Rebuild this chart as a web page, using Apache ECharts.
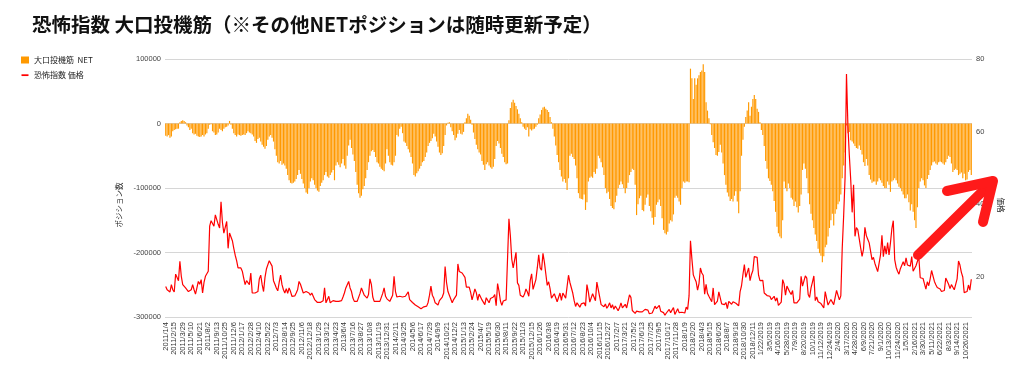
<!DOCTYPE html>
<html>
<head>
<meta charset="utf-8">
<script src="https://cdn.jsdelivr.net/npm/echarts@6/dist/echarts.min.js"></script>
<style>
  html, body { margin: 0; background: #fff; }
  #chart { width: 1024px; height: 375px; }
</style>
</head>
<body>
<div id="chart"></div>
<script>
// weekly data (Tuesdays), CFTC large speculators NET / VIX close
const net2011 = [-19000, -20000, -18000, -22000, -20000, -12000, -10000, -9000, -8000, -8000, 2000, 4000, 5000, 4000, 2000, -3000, -6000, -10000, -8000, -15000, -17000, -16000, -19000, -20000, -21000, -20000, -18000, -20000, -17000, -15000, -8000, -2000, -1000, -12000, -14000, -18000, -17000, -14000, -8000, -10000, -12000, -8000, -6000, -5000, -3000, 4000, -2000, -8000, -15000, -18000, -20000, -17000];
const net2012 = [-18000, -19000, -18000, -17000, -18000, -15000, -12000, -14000, -15000, -17000, -20000, -27000, -30000, -24000, -22000, -28000, -33000, -36000, -39000, -35000, -25000, -20000, -18000, -22000, -28000, -40000, -50000, -60000, -62000, -58000, -64000, -62000, -65000, -70000, -80000, -88000, -92000, -93000, -92000, -90000, -86000, -80000, -72000, -78000, -86000, -93000, -100000, -107000, -109000, -100000, -90000, -85000];
const net2013 = [-88000, -95000, -100000, -104000, -106000, -97000, -92000, -88000, -80000, -75000, -82000, -84000, -80000, -76000, -72000, -88000, -65000, -60000, -64000, -68000, -62000, -55000, -65000, -70000, -50000, -34000, -25000, -38000, -48000, -58000, -75000, -95000, -108000, -115000, -112000, -102000, -97000, -85000, -72000, -60000, -50000, -43000, -41000, -44000, -52000, -60000, -62000, -67000, -70000, -72000, -74000, -62000, -40000];
const net2014 = [-50000, -60000, -64000, -65000, -60000, -50000, -18000, -20000, -8000, -5000, -15000, -28000, -30000, -35000, -40000, -45000, -52000, -62000, -80000, -82000, -77000, -74000, -70000, -66000, -60000, -58000, -52000, -45000, -35000, -30000, -27000, -23000, -16000, -20000, -28000, -36000, -45000, -49000, -46000, -35000, -18000, -3000, 1000, 2000, -6000, -12000, -18000, -26000, -22000, -16000, -10000, -16000];
const net2015 = [-17000, -13000, 2000, 8000, 15000, 12000, 6000, -2000, -14000, -24000, -33000, -40000, -45000, -48000, -58000, -64000, -72000, -63000, -60000, -65000, -68000, -70000, -67000, -55000, -35000, -27000, -31000, -38000, -47000, -52000, -60000, -63000, -62000, 5000, 24000, 33000, 37000, 32000, 27000, 22000, 15000, 8000, 2000, -5000, -8000, -10000, -6000, -20000, -9000, -11000, -9000, -8000];
const net2016 = [-5000, -2000, 8000, 14000, 21000, 25000, 26000, 23000, 21000, 18000, 10000, 2000, -8000, -20000, -34000, -49000, -60000, -72000, -82000, -90000, -86000, -92000, -103000, -85000, -50000, -47000, -52000, -55000, -65000, -85000, -108000, -116000, -117000, -118000, -110000, -134000, -122000, -90000, -84000, -82000, -84000, -75000, -78000, -70000, -50000, -54000, -60000, -68000, -80000, -100000, -108000, -106000];
const net2017 = [-117000, -128000, -131000, -133000, -122000, -112000, -100000, -95000, -90000, -94000, -100000, -108000, -100000, -92000, -80000, -75000, -70000, -72000, -95000, -142000, -125000, -116000, -112000, -134000, -136000, -126000, -115000, -110000, -128000, -136000, -146000, -157000, -145000, -126000, -122000, -118000, -128000, -147000, -165000, -170000, -172000, -168000, -155000, -150000, -152000, -141000, -115000, -112000, -115000, -121000, -126000, -100000];
const net2018 = [-90000, -92000, -90000, -90000, -91000, 85000, 70000, 38000, 70000, 60000, 70000, 75000, 80000, 82000, 92000, 80000, 33000, 20000, 8000, -1000, -18000, -29000, -38000, -49000, -50000, -44000, -33000, -45000, -62000, -80000, -95000, -107000, -113000, -120000, -117000, -121000, -112000, -105000, -121000, -139000, -105000, -50000, -25000, -5000, 10000, 20000, 33000, 12000, 26000, 38000, 44000, 38000];
const net2019 = [23000, 18000, 2000, -10000, -18000, -35000, -58000, -70000, -85000, -89000, -95000, -105000, -120000, -137000, -160000, -170000, -175000, -178000, -150000, -90000, -100000, -105000, -93000, -100000, -115000, -118000, -128000, -121000, -130000, -138000, -128000, -110000, -72000, -62000, -70000, -85000, -108000, -125000, -140000, -150000, -162000, -172000, -182000, -194000, -201000, -205000, -215000, -206000, -192000, -188000, -175000, -162000, -150000];
const net2020 = [-140000, -158000, -140000, -133000, -125000, -121000, -110000, -85000, -65000, -45000, -3000, -15000, -13000, -26000, -28000, -31000, -35000, -38000, -39000, -34000, -41000, -48000, -60000, -66000, -55000, -65000, -80000, -87000, -92000, -90000, -90000, -95000, -90000, -85000, -88000, -92000, -97000, -100000, -100000, -90000, -95000, -106000, -90000, -88000, -85000, -88000, -93000, -98000, -100000, -105000, -110000, -116000];
const net2021 = [-116000, -110000, -122000, -135000, -125000, -137000, -150000, -162000, -130000, -100000, -90000, -85000, -88000, -96000, -100000, -86000, -80000, -72000, -65000, -60000, -59000, -62000, -64000, -60000, -59000, -60000, -62000, -64000, -60000, -55000, -50000, -52000, -62000, -75000, -72000, -70000, -72000, -80000, -78000, -76000, -85000, -78000, -88000, -87000, -75000, -72000, -80000];

const vix2011 = [17.4, 16.5, 17.0, 15.9, 17.9, 16.5, 15.9, 20.8, 21.1, 19.0, 24.3, 20.2, 17.9, 17.9, 17.0, 16.5, 16.0, 15.9, 16.5, 17.9, 16.5, 15.3, 17.0, 18.8, 18.0, 19.3, 15.6, 18.5, 20.2, 19.7, 21.6, 34.0, 35.5, 35.0, 34.0, 37.1, 37.1, 34.5, 33.5, 40.7, 35.0, 32.1, 31.6, 35.3, 27.9, 32.1, 31.6, 30.0, 27.9, 26.0, 24.5, 22.5];
const vix2012 = [22.9, 22.5, 21.6, 19.7, 17.9, 19.0, 18.5, 17.9, 21.1, 15.6, 16.0, 15.6, 15.3, 16.0, 19.5, 20.5, 17.9, 16.0, 19.9, 22.2, 22.0, 24.5, 24.8, 23.0, 19.0, 18.0, 17.0, 16.2, 18.5, 20.5, 17.9, 16.5, 15.6, 16.8, 15.5, 17.0, 16.0, 14.7, 14.2, 14.8, 15.6, 16.5, 18.8, 18.0, 17.9, 15.6, 16.0, 16.0, 15.6, 15.6, 15.0, 15.6];
const vix2013 = [14.7, 13.8, 13.3, 13.0, 13.3, 13.0, 12.9, 13.5, 17.0, 12.9, 12.5, 14.7, 12.9, 13.3, 13.5, 13.8, 13.3, 13.0, 13.3, 12.9, 13.5, 14.5, 15.6, 17.0, 17.9, 18.8, 17.0, 16.0, 14.2, 13.3, 12.9, 13.3, 13.3, 15.5, 17.0, 16.5, 15.0, 14.5, 14.2, 15.2, 19.5, 18.0, 14.5, 13.3, 13.3, 13.3, 13.0, 13.3, 13.3, 15.5, 17.0, 14.7, 14.0];
const vix2014 = [14.2, 13.3, 13.5, 15.0, 20.2, 16.0, 14.5, 14.2, 14.7, 15.0, 14.5, 14.0, 14.7, 15.0, 15.9, 13.8, 13.5, 13.0, 12.9, 12.3, 12.0, 11.8, 11.4, 11.3, 11.0, 11.8, 11.4, 12.0, 13.0, 15.0, 17.5, 15.0, 14.2, 12.9, 12.6, 12.3, 13.5, 13.0, 14.5, 15.6, 22.9, 18.5, 16.0, 15.0, 14.5, 12.9, 13.8, 13.3, 15.0, 23.6, 21.5, 21.1];
const vix2015 = [21.1, 20.6, 19.9, 17.2, 17.3, 17.2, 15.8, 13.7, 13.9, 16.7, 15.7, 13.6, 15.3, 14.8, 13.7, 13.3, 12.4, 14.3, 13.9, 12.9, 14.1, 13.9, 14.5, 15.2, 12.1, 18.2, 16.1, 13.4, 12.2, 13.4, 13.0, 13.7, 13.8, 36.0, 31.4, 24.9, 22.5, 22.4, 26.8, 18.4, 17.7, 15.0, 15.4, 14.5, 15.3, 16.7, 15.9, 14.7, 19.0, 20.9, 16.6, 16.1];
const vix2016 = [19.3, 22.5, 26.1, 22.5, 21.9, 26.5, 24.1, 20.9, 17.7, 18.7, 16.8, 14.2, 14.8, 15.4, 14.9, 13.2, 13.2, 15.6, 13.6, 15.6, 15.8, 14.2, 14.1, 20.5, 18.5, 18.8, 15.6, 13.5, 11.9, 12.9, 13.4, 11.7, 12.6, 12.4, 12.9, 12.0, 17.9, 15.9, 13.1, 13.6, 15.4, 15.3, 13.5, 18.6, 18.7, 14.5, 12.4, 12.9, 11.8, 12.6, 11.4, 12.0];
const vix2017 = [12.9, 11.5, 12.4, 11.1, 12.0, 11.4, 10.7, 11.6, 12.9, 11.5, 11.4, 12.5, 11.5, 11.8, 15.1, 14.4, 10.8, 10.6, 10.0, 10.6, 10.7, 10.4, 10.5, 10.4, 10.9, 11.1, 11.1, 10.9, 9.9, 9.4, 10.1, 11.0, 12.0, 11.3, 11.7, 12.2, 10.6, 10.2, 10.2, 9.5, 10.1, 10.3, 11.1, 10.2, 9.9, 11.6, 9.7, 10.0, 11.3, 10.2, 10.0, 10.3];
const vix2018 = [9.8, 10.1, 11.7, 11.1, 14.8, 30.0, 25.0, 20.6, 19.6, 18.7, 16.4, 18.2, 22.5, 21.1, 20.5, 15.3, 18.0, 15.5, 14.7, 14.6, 13.2, 17.0, 12.4, 12.4, 13.4, 15.9, 15.6, 12.6, 12.1, 12.4, 13.0, 11.3, 13.3, 12.9, 12.5, 13.2, 13.2, 12.8, 12.4, 12.1, 16.0, 17.6, 20.7, 23.4, 19.9, 20.0, 22.5, 19.0, 20.7, 21.8, 25.6, 25.6];
const vix2019 = [25.4, 20.5, 19.0, 19.5, 19.1, 15.6, 15.4, 14.9, 14.9, 14.7, 13.8, 13.6, 14.7, 13.4, 14.3, 12.2, 12.3, 13.1, 19.3, 18.1, 15.0, 17.5, 17.0, 15.9, 15.2, 16.3, 12.9, 13.0, 12.9, 12.6, 13.9, 20.2, 17.5, 17.5, 20.3, 19.7, 15.2, 14.4, 17.0, 18.6, 20.3, 13.5, 14.5, 13.2, 12.9, 12.7, 12.5, 11.5, 16.0, 15.7, 12.3, 12.7, 13.8];
const vix2020 = [13.8, 12.4, 12.9, 16.3, 15.8, 13.7, 14.8, 27.9, 36.8, 47.3, 75.9, 61.7, 53.5, 46.7, 37.8, 45.4, 31.2, 33.6, 33.0, 30.5, 28.0, 25.7, 27.6, 33.7, 31.4, 30.4, 29.4, 29.5, 24.8, 25.4, 23.8, 24.0, 21.5, 22.0, 26.1, 31.5, 25.6, 28.6, 26.3, 29.5, 26.1, 29.4, 33.3, 35.5, 24.8, 22.7, 21.6, 20.8, 22.3, 22.3, 24.2, 23.1];
const vix2021 = [25.3, 23.3, 23.2, 23.0, 25.6, 21.6, 21.5, 23.1, 23.1, 25.5, 19.8, 20.3, 19.6, 18.1, 16.7, 18.7, 17.6, 19.5, 21.8, 21.3, 18.8, 17.9, 17.1, 17.0, 16.7, 16.0, 16.4, 16.3, 19.7, 19.4, 18.0, 16.8, 17.9, 17.2, 16.5, 18.0, 19.5, 24.4, 23.3, 21.3, 20.0, 15.7, 16.0, 16.0, 17.8, 16.4, 19.4];

const netValues = [].concat(net2011, net2012, net2013, net2014, net2015, net2016, net2017, net2018, net2019, net2020, net2021);
const vixValues = [].concat(vix2011, vix2012, vix2013, vix2014, vix2015, vix2016, vix2017, vix2018, vix2019, vix2020, vix2021);

const firstWeek = '2011-01-04';
const rightTicks = [20, 40, 60, 80];

// weekly labels: y/m/d until 2018, m/d/y from 2019 (as in the sheet)
const weeks = [];
let d = new Date(firstWeek + 'T00:00:00Z');
for (let i = 0; i < netValues.length; i++) {
  const y = d.getUTCFullYear(), m = d.getUTCMonth() + 1, day = d.getUTCDate();
  weeks.push(y < 2019 ? y + '/' + m + '/' + day : m + '/' + day + '/' + y);
  d = new Date(d.getTime() + 7 * 86400000);
}

const jp = '"Noto Sans CJK JP", sans-serif';
const latin = '"Liberation Sans", Arial, sans-serif';

const chart = echarts.init(document.getElementById('chart'));
chart.setOption({
  animation: false,
  backgroundColor: '#fff',
  title: {
    text: '恐怖指数 大口投機筋（※その他NETポジションは随時更新予定）',
    left: 27,
    top: 10,
    textStyle: { fontFamily: jp, fontSize: 19.5, fontWeight: 'bold', color: '#111' }
  },
  legend: {
    orient: 'vertical',
    left: 16,
    top: 51,
    itemWidth: 8,
    itemHeight: 7,
    itemGap: 7,
    textStyle: { fontFamily: jp, fontSize: 8, color: '#222' },
    data: [
      { name: '大口投機筋  NET', icon: 'rect' },
      { name: '恐怖指数 価格', icon: 'path://M0,0 L0,0 M0,4 L10,4 L10,6.5 L0,6.5 Z M10,10 L10,10' }
    ]
  },
  grid: { left: 165, right: 52, top: 59, bottom: 58 },
  xAxis: {
    type: 'category',
    data: weeks,
    axisLine: { onZero: false, show: false },
    axisTick: { show: false },
    axisLabel: { interval: 5, rotate: 90, fontSize: 7.5, color: '#333', fontFamily: latin, margin: 5 }
  },
  yAxis: [
    {
      type: 'value',
      min: -300000,
      max: 100000,
      interval: 100000,
      name: 'ポジション数',
      nameLocation: 'middle',
      nameGap: 40,
      nameTextStyle: { fontFamily: jp, fontSize: 7.5, color: '#222', padding: [0, 34, 0, 0] },
      axisLine: { show: false },
      axisTick: { show: false },
      axisLabel: { fontSize: 7.5, color: '#444', fontFamily: latin, margin: 4, formatter: (v) => String(v) },
      splitLine: { lineStyle: { color: '#d6d6d6', width: 1 } }
    },
    {
      type: 'value',
      min: 9,
      max: 80,
      position: 'right',
      name: '価格',
      nameLocation: 'middle',
      nameGap: 25,
      nameRotate: -90,
      nameTextStyle: { fontFamily: jp, fontSize: 7.5, color: '#222', padding: [0, 0, 0, 34] },
      axisLine: { show: false },
      axisTick: { show: false },
      axisLabel: { fontSize: 7.5, color: '#444', fontFamily: latin, margin: 4, customValues: rightTicks },
      splitLine: { show: false }
    }
  ],
  series: [
    {
      name: '大口投機筋  NET',
      type: 'bar',
      yAxisIndex: 0,
      data: netValues,
      barCategoryGap: '18%',
      itemStyle: { color: '#ff9900' },
      z: 2
    },
    {
      name: '恐怖指数 価格',
      type: 'line',
      yAxisIndex: 1,
      data: vixValues,
      symbol: 'none',
      lineStyle: { color: '#ff0000', width: 1.2 },
      itemStyle: { color: '#ff0000' },
      z: 3
    }
  ],
  graphic: [
    {
      type: 'polyline',
      z: 100,
      shape: { points: [[918, 255], [991, 183]] },
      style: { stroke: '#ff1a1a', lineWidth: 10, lineCap: 'round', fill: null }
    },
    {
      type: 'polyline',
      z: 100,
      shape: { points: [[947, 191], [993, 181], [983, 222]] },
      style: { stroke: '#ff1a1a', lineWidth: 10, lineCap: 'round', lineJoin: 'round', fill: null }
    }
  ]
});
</script>
</body>
</html>
